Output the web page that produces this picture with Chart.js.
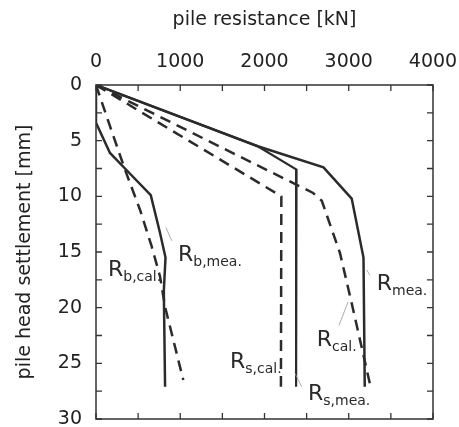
<!DOCTYPE html>
<html>
<head>
<meta charset="utf-8">
<script src="https://cdn.jsdelivr.net/npm/chart.js@4.4.0/dist/chart.umd.min.js"></script>
<style>
html, body { margin: 0; padding: 0; background: #fff; }
</style>
</head>
<body>
<canvas id="chart" width="459" height="427"></canvas>
<script>
// tick values
const xTicks = [0, 1000, 2000, 3000, 4000];
const yTicks = [0, 5, 10, 15, 20, 25, 30];
const xTickMarks = [0, 500, 1000, 1500, 2000, 2500, 3000, 3500, 4000];
const yTickMarks = [0, 2.5, 5, 7.5, 10, 12.5, 15, 17.5, 20, 22.5, 25, 27.5, 30];

// measured total resistance
const rMeaKN = [0, 1920, 2700, 3035, 3175, 3190];
const rMeaMM = [0, 5.5, 7.4, 10.2, 15.5, 27.1];
// calculated total resistance
const rCalKN = [0, 2577, 2680, 2896, 3035, 3250];
const rCalMM = [0, 9.7, 10.4, 15.1, 19.6, 26.8];
// measured shaft resistance
const rsMeaKN = [0, 1920, 2380, 2375];
const rsMeaMM = [0, 5.5, 7.6, 27.1];
// calculated shaft resistance
const rsCalKN = [0, 2200, 2195];
const rsCalMM = [0, 10.0, 27.1];
// measured base resistance
const rbMeaKN = [0, 0, 166, 344, 650, 760, 825, 805, 820];
const rbMeaMM = [0, 3.4, 6.1, 7.5, 9.9, 13.3, 15.5, 18.5, 27.1];
// calculated base resistance
const rbCalKN = [0, 166, 344, 522, 661, 760, 819, 1036];
const rbCalMM = [0, 3.7, 7.6, 11.2, 14.5, 17.2, 19.9, 26.5];

// curve labels: main letter, subscript, anchor [kN, mm]
const labels = [
  { main: "R", sub: "b,cal.", kN: 142, mm: 17.2 },
  { main: "R", sub: "b,mea.", kN: 973, mm: 15.8 },
  { main: "R", sub: "s,cal.", kN: 1590, mm: 25.4 },
  { main: "R", sub: "s,mea.", kN: 2516, mm: 28.3 },
  { main: "R", sub: "cal.", kN: 2620, mm: 23.4 },
  { main: "R", sub: "mea.", kN: 3332, mm: 18.4 }
];
// thin leader lines [kN1, mm1, kN2, mm2]
const leaders = [
  [2884, 21.6, 2991, 19.5],
  [2362, 25.9, 2441, 27.1],
  [830, 12.8, 900, 14.0],
  [3213, 16.6, 3252, 17.1]
];

function pts(xs, ys) {
  return xs.map((v, i) => ({ x: v, y: ys[i] }));
}

const lineColor = "#2b2b2b";
function series(label, xs, ys, dashed, width) {
  return {
    label,
    data: pts(xs, ys),
    borderColor: lineColor,
    borderWidth: width || 2.5,
    borderDash: dashed ? [11, 7] : [],
    pointRadius: 0,
    tension: 0,
    fill: false
  };
}

// no overhang padding, fixed scale box size
function fixBox(size) {
  return s => {
    if (s.isHorizontal()) s.height = size; else s.width = size;
    s.paddingLeft = 0; s.paddingRight = 0; s.paddingTop = 0; s.paddingBottom = 0;
  };
}

const framePlugin = {
  id: "frame",
  afterDatasetsDraw(chart) {
    const { ctx, chartArea: a, scales: { x, y } } = chart;
    ctx.save();
    ctx.strokeStyle = "#333";
    ctx.lineWidth = 1.5;
    ctx.strokeRect(a.left, a.top, a.right - a.left, a.bottom - a.top);

    // inward tick marks on all four sides
    ctx.lineWidth = 1.3;
    ctx.beginPath();
    xTickMarks.forEach(v => {
      const px = x.getPixelForValue(v);
      ctx.moveTo(px, a.top); ctx.lineTo(px, a.top + 6);
      ctx.moveTo(px, a.bottom); ctx.lineTo(px, a.bottom - 6);
    });
    yTickMarks.forEach(v => {
      const py = y.getPixelForValue(v);
      ctx.moveTo(a.left, py); ctx.lineTo(a.left + 6, py);
      ctx.moveTo(a.right, py); ctx.lineTo(a.right - 6, py);
    });
    ctx.stroke();

    // leader lines
    ctx.strokeStyle = "#999";
    ctx.lineWidth = 0.8;
    ctx.beginPath();
    leaders.forEach(l => {
      ctx.moveTo(x.getPixelForValue(l[0]), y.getPixelForValue(l[1]));
      ctx.lineTo(x.getPixelForValue(l[2]), y.getPixelForValue(l[3]));
    });
    ctx.stroke();

    // labels with subscripts
    ctx.fillStyle = "#2a2a2a";
    ctx.textBaseline = "alphabetic";
    ctx.textAlign = "left";
    labels.forEach(l => {
      const px = x.getPixelForValue(l.kN);
      const py = y.getPixelForValue(l.mm);
      ctx.font = "22px 'DejaVu Sans'";
      ctx.fillText(l.main, px, py);
      const w = ctx.measureText(l.main).width;
      ctx.font = "14px 'DejaVu Sans'";
      ctx.fillText(l.sub, px + w, py + 5);
    });
    ctx.restore();
  }
};

const tickFont = { family: "'DejaVu Sans'", size: 19 };
const plain = v => String(v);

new Chart(document.getElementById("chart"), {
  type: "line",
  data: {
    datasets: [
      series("R mea.", rMeaKN, rMeaMM, false),
      series("R cal.", rCalKN, rCalMM, true),
      series("Rs mea.", rsMeaKN, rsMeaMM, false, 2.2),
      series("Rs cal.", rsCalKN, rsCalMM, true),
      series("Rb mea.", rbMeaKN, rbMeaMM, false),
      series("Rb cal.", rbCalKN, rbCalMM, true)
    ]
  },
  options: {
    responsive: false,
    animation: false,
    layout: { padding: 0 },
    plugins: { legend: { display: false }, tooltip: { enabled: false } },
    scales: {
      x: {
        type: "linear",
        position: "top",
        min: 0,
        max: 4000,
        afterBuildTicks: s => { s.ticks = xTicks.map(v => ({ value: v })); },
        afterFit: fixBox(85),
        grid: { display: false, drawTicks: false },
        border: { display: false },
        ticks: { font: tickFont, color: "#222", padding: 12, maxRotation: 0, callback: plain },
        title: {
          display: true,
          text: "pile resistance [kN]",
          font: tickFont,
          color: "#222",
          padding: { top: 9, bottom: 0 }
        }
      },
      x2: {
        type: "linear",
        position: "bottom",
        min: 0,
        max: 4000,
        afterFit: fixBox(8),
        grid: { display: false, drawTicks: false },
        border: { display: false },
        ticks: { display: false }
      },
      y: {
        type: "linear",
        position: "left",
        reverse: true,
        min: 0,
        max: 30,
        afterBuildTicks: s => { s.ticks = yTicks.map(v => ({ value: v })); },
        afterFit: fixBox(96),
        grid: { display: false, drawTicks: false },
        border: { display: false },
        ticks: { font: tickFont, color: "#222", padding: 14, callback: plain },
        title: {
          display: true,
          text: "pile head settlement [mm]",
          font: tickFont,
          color: "#222",
          padding: { top: 14, bottom: 0 }
        }
      },
      y2: {
        type: "linear",
        position: "right",
        min: 0,
        max: 30,
        afterFit: fixBox(26),
        grid: { display: false, drawTicks: false },
        border: { display: false },
        ticks: { display: false }
      }
    }
  },
  plugins: [framePlugin]
});
</script>
</body>
</html>
